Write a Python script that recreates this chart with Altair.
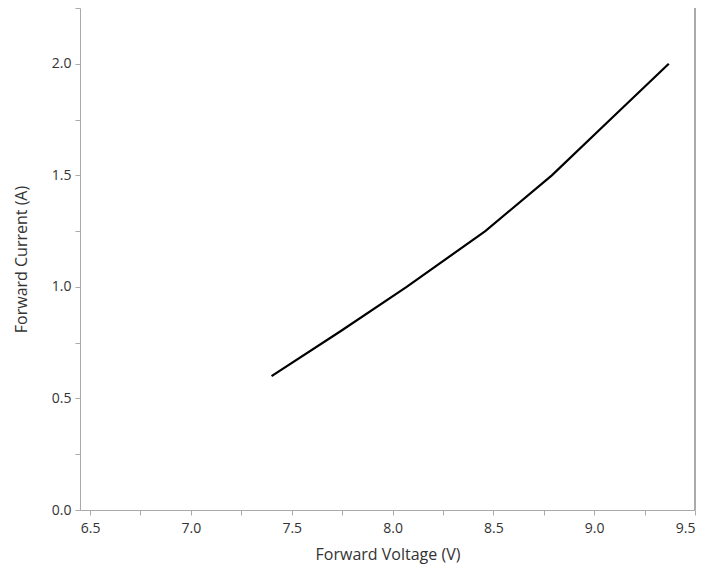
import altair as alt
import pandas as pd

voltage = [7.40, 7.74, 8.07, 8.46, 8.79, 9.08, 9.37]
current = [0.60, 0.80, 1.00, 1.25, 1.50, 1.75, 2.00]

x_ticks = [6.5 + 0.25 * i for i in range(13)]
y_ticks = [0.25 * i for i in range(10)]

df = pd.DataFrame({"v": voltage, "i": current})

label_expr = "abs(round(datum.value*4)) % 2 == 0 ? format(datum.value, '.1f') : ''"

line = alt.Chart(df).mark_line(color="black", strokeWidth=2.2).encode(
    x=alt.X("v:Q", title="Forward Voltage (V)",
            scale=alt.Scale(domain=[6.45, 9.5], nice=False, zero=False),
            axis=alt.Axis(values=x_ticks, labelExpr=label_expr, grid=False,
                          labelPadding=6, titlePadding=11)),
    y=alt.Y("i:Q", title="Forward Current (A)",
            scale=alt.Scale(domain=[0, 2.25], nice=False),
            axis=alt.Axis(values=y_ticks, labelExpr=label_expr, grid=False,
                          labelPadding=4, titlePadding=22)),
)

right = alt.Chart(df).mark_rule(color="#aaaaaa", strokeWidth=1).encode(
    x=alt.value(615), y=alt.value(0), y2=alt.value(502)
)

chart = (line + right).properties(
    width=615, height=502,
    autosize=alt.AutoSizeParams(type="none"),
    padding={"left": 72, "top": 0, "right": 6, "bottom": 60},
).configure_view(stroke=None).configure_axis(
    domainColor="#aaaaaa", tickColor="#aaaaaa", tickSize=5,
    labelFont="Open Sans", titleFont="Open Sans",
    labelFontSize=14, titleFontSize=16, labelColor="#333333", titleColor="#333333",
    titleFontWeight="normal",
)

chart.save("out.html", embed_options={"renderer": "svg", "actions": False})
